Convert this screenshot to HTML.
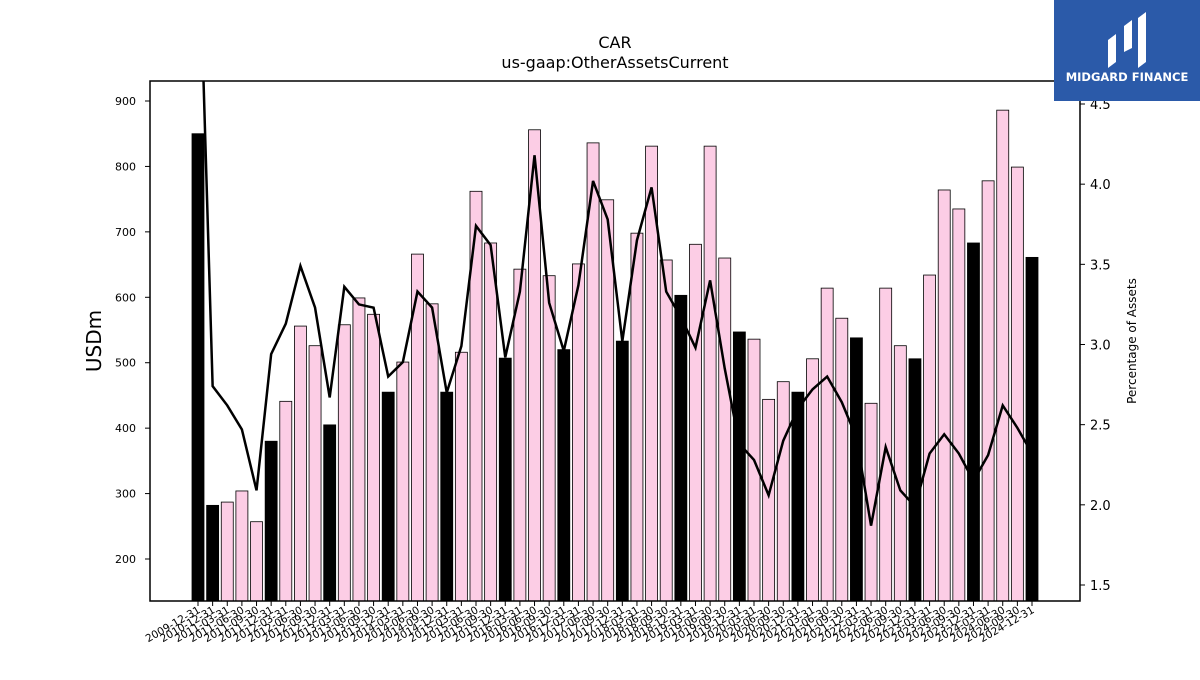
<!DOCTYPE html>
<html><head><meta charset="utf-8">
<style>
body{margin:0;background:#fff;width:1200px;height:675px;overflow:hidden;font-family:"Liberation Sans","DejaVu Sans",sans-serif;}
svg text{font-family:"DejaVu Sans","Liberation Sans",sans-serif;}
</style></head>
<body>
<svg id="chart" width="1200" height="675" xmlns="http://www.w3.org/2000/svg">
<text x="615" y="48" font-size="16" text-anchor="middle">CAR</text>
<text x="615" y="68" font-size="16" text-anchor="middle">us-gaap:OtherAssetsCurrent</text>
<text x="101" y="341" font-size="20" text-anchor="middle" transform="rotate(-90 101 341)">USDm</text>
<text x="1136" y="341" font-size="12" text-anchor="middle" transform="rotate(-90 1136 341)">Percentage of Assets</text>
<g id="bars"></g><g id="line"></g><g id="axes"></g>
<rect x="150" y="81" width="930" height="520" fill="none" stroke="#000" stroke-width="1.5"/>
<g>
<rect x="1054" y="0" width="146" height="101" fill="#2b5aa9"/>
<path d="M1108 68 L1108 40 L1116 34 L1116 62 Z M1124 52 L1124 26 L1132 20 L1132 48 Z M1138 68 L1138 18 L1146 12 L1146 62 Z" fill="#fff"/>
<text x="1127" y="81" font-size="11.5" font-weight="bold" fill="#fff" text-anchor="middle">MIDGARD FINANCE</text>
</g>
</svg>
<script>
const labels=["2009-12-31","2010-12-31"];
for(let y=2011;y<=2024;y++){for(const q of ["03-31","06-30","09-30","12-31"])labels.push(y+"-"+q);}
const values=[850,282,287,304,257,380,441,556,526,405,558,599,574,455,501,666,590,455,516,762,683,507,643,856,633,520,651,836,749,533,698,831,657,603,681,831,660,547,536,444,471,455,506,614,568,538,438,614,526,506,634,764,735,683,778,886,799,661];
const pct=[5.8,2.74,2.62,2.47,2.09,2.94,3.13,3.49,3.23,2.67,3.36,3.25,3.23,2.80,2.89,3.33,3.23,2.70,2.99,3.74,3.62,2.92,3.33,4.18,3.26,2.96,3.37,4.02,3.78,3.02,3.65,3.98,3.33,3.17,2.98,3.40,2.85,2.38,2.28,2.06,2.40,2.60,2.72,2.80,2.64,2.42,1.87,2.36,2.09,1.99,2.32,2.44,2.32,2.15,2.31,2.62,2.48,2.32];
const leftTicks=[200,300,400,500,600,700,800,900];
const rightTicks=[1.5,2.0,2.5,3.0,3.5,4.0,4.5];
const NS="http://www.w3.org/2000/svg";
const xS=i=>198+i*(1032-198)/(labels.length-1);
const yL=v=>101+(900-v)*0.6543;
const yR=v=>104+(4.5-v)*160.33;
function mk(t,a,p){const e=document.createElementNS(NS,t);for(const k in a)e.setAttribute(k,a[k]);p.appendChild(e);return e;}
const bars=document.getElementById('bars'),line=document.getElementById('line'),axes=document.getElementById('axes');
const clip=mk('clipPath',{id:'pc'},document.getElementById('chart'));mk('rect',{x:150,y:81,width:930,height:520},clip);
line.setAttribute('clip-path','url(#pc)');
values.forEach((v,i)=>{
 const annual=labels[i].endsWith("12-31");
 const r=mk('rect',{x:xS(i)-6,y:yL(v),width:12,height:601-yL(v),fill:annual?'#000':'#fccde5',stroke:'#000','stroke-width':0.8},bars);
 
 
});
const pl=mk('polyline',{points:pct.map((p,i)=>xS(i)+','+yR(p)).join(' '),fill:'none',stroke:'#000','stroke-width':2.5},line);


leftTicks.forEach(t=>{const y=yL(t);
 mk('line',{x1:145,x2:150,y1:y,y2:y,stroke:'#000'},axes);
 const tx=mk('text',{x:136,y:y+4,'font-size':11,'text-anchor':'end'},axes);tx.textContent=t;
 
 
});
rightTicks.forEach(t=>{const y=yR(t);
 mk('line',{x1:1080,x2:1085,y1:y,y2:y,stroke:'#000'},axes);
 const tx=mk('text',{x:1090,y:y+5,'font-size':13},axes);tx.textContent=t.toFixed(1);
 
 
});
labels.forEach((l,i)=>{const x=xS(i);
 mk('line',{x1:x,x2:x,y1:601,y2:606,stroke:'#000'},axes);
 const tx=mk('text',{x:x+3,y:612,'font-size':10.5,'text-anchor':'end',transform:`rotate(-30 ${x+3} 612)`},axes);tx.textContent=l;
 
 
});
</script>
</body></html>
